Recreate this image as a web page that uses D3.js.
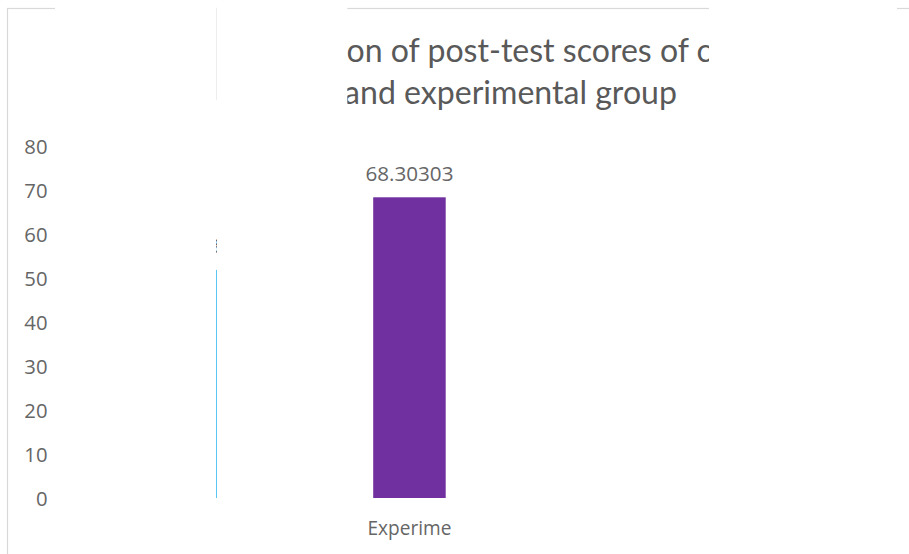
<!DOCTYPE html>
<html>
<head>
<meta charset="utf-8">
<script src="https://cdn.jsdelivr.net/npm/d3@7"></script>
<style>
  html, body { margin: 0; padding: 0; background: #ffffff; }
  svg { display: block; }
</style>
</head>
<body>
<svg id="chart" width="909" height="554"></svg>
<script>
// ---- data ----
const categories = ["Control", "Experimental"];
const categoryLabels = ["Control", "Experime"];
const values = [51.81818, 68.30303];
const valueLabels = ["51.81818", "68.30303"];
const yTickValues = [0, 10, 20, 30, 40, 50, 60, 70, 80];
const titleLines = ["Comparison of post-test scores of control", "and experimental group"];
const barColors = ["#5cc6f2", "#7030a0"];

// ---- setup ----
const W = 909, H = 554;
const svg = d3.select("#chart");
const textColor = "#595959";
const numFont = "'Open Sans', 'Noto Sans', sans-serif";
const titleFont = "Lato, 'Open Sans', sans-serif";

function fitSize(str, target, family) {
  const t = svg.append("text").attr("font-family", family).attr("font-size", 100).text(str);
  const w = t.node().getComputedTextLength();
  t.remove();
  return 100 * target / w;
}

svg.append("rect").attr("width", W).attr("height", H).attr("fill", "#fff");

// chart frame (extends past the picture)
svg.append("rect")
  .attr("x", 7.5).attr("y", 8.5).attr("width", 1100).attr("height", 700)
  .attr("fill", "#fff").attr("stroke", "#d9d9d9").attr("stroke-width", 1.2);

// scales
const y = d3.scaleLinear().domain([0, 80]).range([498, 145.8]);
const x = d3.scaleBand().domain(categories).range([66.4, 523.8])
  .paddingInner(0.683).paddingOuter(0.3415);

// y axis
const tickSize = fitSize("80", 23.2, numFont);
const yAxis = d3.axisLeft(y).tickValues(yTickValues).tickSize(0).tickPadding(0)
  .tickFormat(d3.format("d"));
const gy = svg.append("g").attr("transform", "translate(47.5,0)").call(yAxis);
gy.select(".domain").remove();
gy.selectAll("text")
  .attr("font-family", numFont).attr("font-size", tickSize)
  .attr("fill", "#666666").attr("dy", "0.38em");

// bars
svg.append("g").selectAll("rect").data(categories).join("rect")
  .attr("x", d => x(d))
  .attr("width", x.bandwidth())
  .attr("y", (d, i) => y(values[i]))
  .attr("height", (d, i) => y(0) - y(values[i]))
  .attr("fill", (d, i) => barColors[i]);

// value labels
const valSize = fitSize("68.30303", 88.0, numFont);
svg.append("g").selectAll("text").data(categories).join("text")
  .attr("x", d => x(d) + x.bandwidth() / 2)
  .attr("y", (d, i) => y(values[i]) - 16.5)
  .attr("text-anchor", "middle")
  .attr("font-family", numFont).attr("font-size", valSize)
  .attr("fill", "#666666")
  .text((d, i) => valueLabels[i]);

// category labels
const catSize = fitSize("Experime", 84.0, numFont);
svg.append("g").selectAll("text").data(categories).join("text")
  .attr("x", d => x(d) + x.bandwidth() / 2)
  .attr("y", 528)
  .attr("dy", "0.35em")
  .attr("text-anchor", "middle")
  .attr("font-family", numFont).attr("font-size", catSize)
  .attr("fill", "#666666")
  .text((d, i) => categoryLabels[i]);

// title
const titleSize = fitSize(titleLines[1], 333, titleFont);
const titleCx = 677 - 333 / 2;
const titleG = svg.append("g");
titleG.append("text")
  .attr("y", 62)
  .attr("font-family", titleFont).attr("font-size", titleSize)
  .attr("fill", textColor)
  .text(titleLines[0])
  .each(function () {
    const prefix = this.getSubStringLength(0, 8); // "Comparis"
    d3.select(this).attr("x", 346.5 - prefix);
  });
titleG.append("text")
  .attr("x", titleCx)
  .attr("y", 104)
  .attr("text-anchor", "middle")
  .attr("font-family", titleFont).attr("font-size", titleSize)
  .attr("fill", textColor)
  .text(titleLines[1]);

// white cover-ups seen in the picture
const covers = [
  { x: 55, y: 0, w: 161, h: H },
  { x: 217, y: 0, w: 130.3, h: H },
  { x: 709, y: 0, w: 188, h: 140 }
];
svg.append("g").selectAll("rect").data(covers).join("rect")
  .attr("x", d => d.x).attr("y", d => d.y)
  .attr("width", d => d.w).attr("height", d => d.h)
  .attr("fill", "#fff");

// faint seam at the left cover edge
svg.append("line").attr("x1", 216.5).attr("x2", 216.5).attr("y1", 8).attr("y2", 100)
  .attr("stroke", "#ededed").attr("stroke-width", 1);
</script>
</body>
</html>
